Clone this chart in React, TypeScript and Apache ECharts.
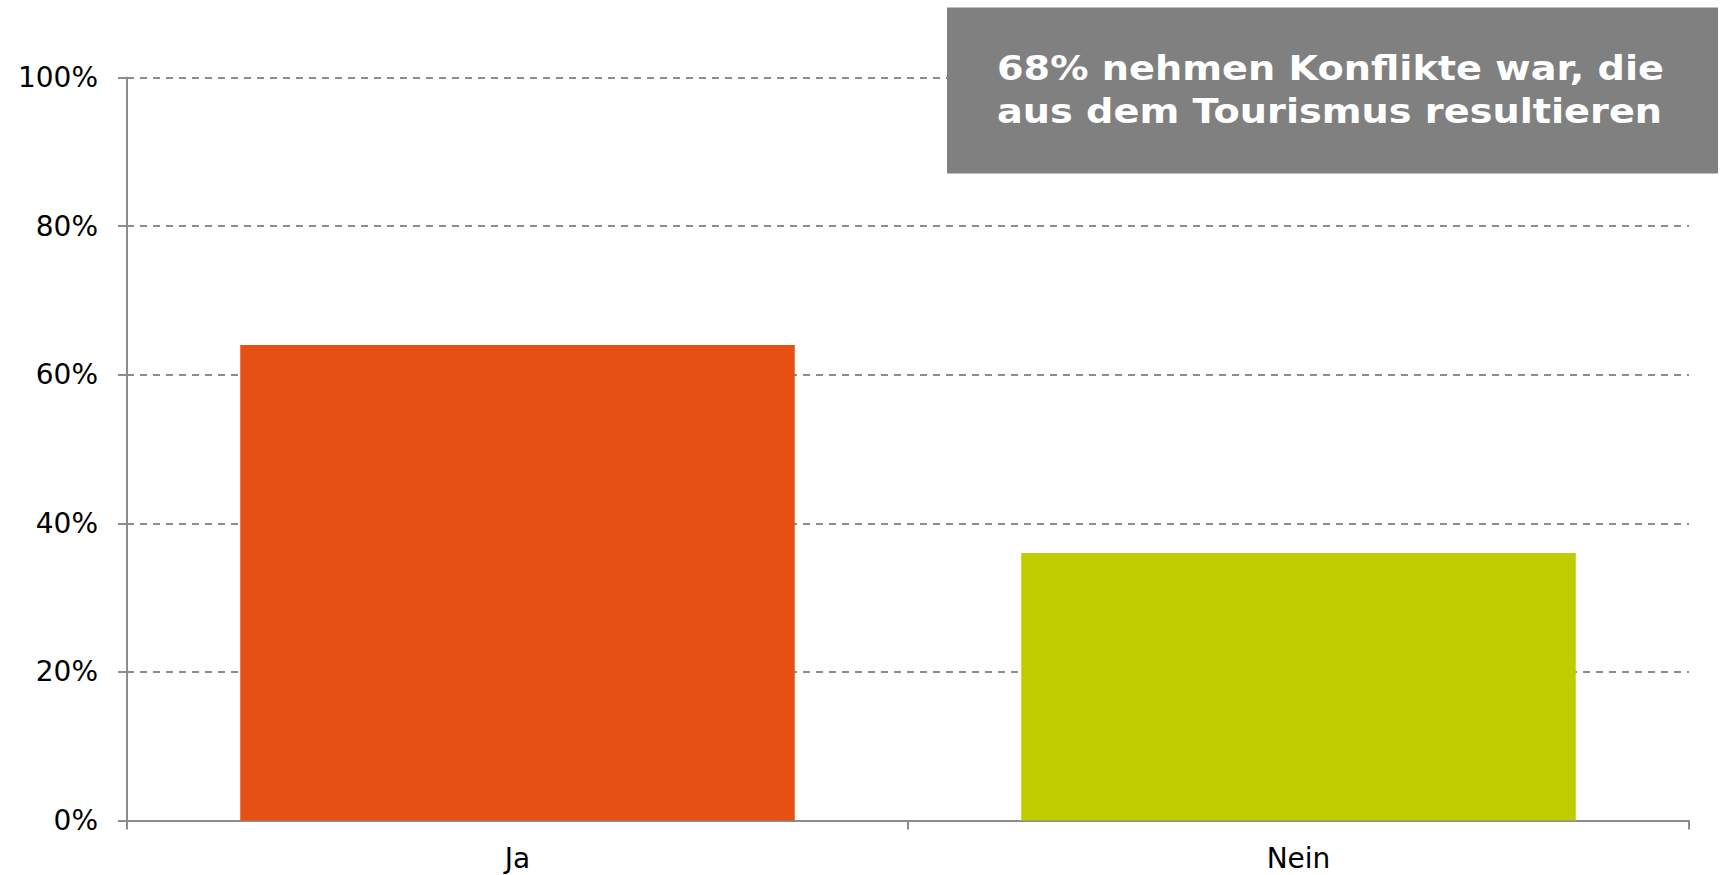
import React, { useEffect, useRef } from "react";
import * as echarts from "echarts";

const categories = ["Ja", "Nein"];
const values = [64, 36];
const barColors = ["#E65014", "#BFCD00"];
const yTicks = [0, 20, 40, 60, 80, 100];
const calloutText = "68% nehmen Konflikte war, die\naus dem Tourismus resultieren";

export default function App() {
  const ref = useRef<HTMLDivElement>(null);
  useEffect(() => {
    if (!ref.current) return;
    const chart = echarts.init(ref.current, null, { renderer: "svg" });
    const font = "DejaVu Sans, Verdana, sans-serif";
    chart.setOption({
      animation: false,
      backgroundColor: "#ffffff",
      grid: { left: 127, right: 32, top: 77.5, bottom: 54.5, containLabel: false },
      xAxis: {
        type: "category",
        data: categories,
        axisLine: { show: true, lineStyle: { color: "#8c8c8c", width: 2 } },
        axisTick: { show: true, length: 9, lineStyle: { color: "#8c8c8c", width: 2 } },
        axisLabel: { color: "#000000", fontSize: 28, fontFamily: font, margin: 24 },
        splitLine: { show: false },
      },
      yAxis: {
        type: "value",
        min: yTicks[0],
        max: yTicks[yTicks.length - 1],
        interval: 20,
        axisLine: { show: true, lineStyle: { color: "#8c8c8c", width: 2 } },
        axisTick: { show: true, length: 9, lineStyle: { color: "#8c8c8c", width: 2 } },
        axisLabel: {
          color: "#000000",
          fontSize: 28,
          fontFamily: font,
          margin: 29,
          formatter: (v: number) => v + "%",
        },
        splitLine: {
          show: true,
          lineStyle: { color: "#8c8c8c", width: 2, type: [7, 6] },
        },
      },
      series: [
        {
          type: "bar",
          data: values.map((v, i) => ({ value: v, itemStyle: { color: barColors[i] } })),
          barCategoryGap: "29%",
        },
      ],
      graphic: [
        {
          type: "rect",
          shape: { x: 947, y: 7.5, width: 771, height: 166 },
          style: { fill: "#808080" },
          z: 100,
        },
        {
          type: "text",
          x: 997,
          y: 46.5,
          scaleX: 1.125,
          z: 101,
          style: {
            text: calloutText,
            fill: "#ffffff",
            font: "bold 34px DejaVu Sans, Verdana, sans-serif",
            lineHeight: 43,
            textVerticalAlign: "top",
            textAlign: "left",
          },
        },
      ],
    });
    return () => chart.dispose();
  }, []);
  return <div ref={ref} style={{ width: 1721, height: 875, position: "absolute", left: 0, top: 0 }} />;
}
